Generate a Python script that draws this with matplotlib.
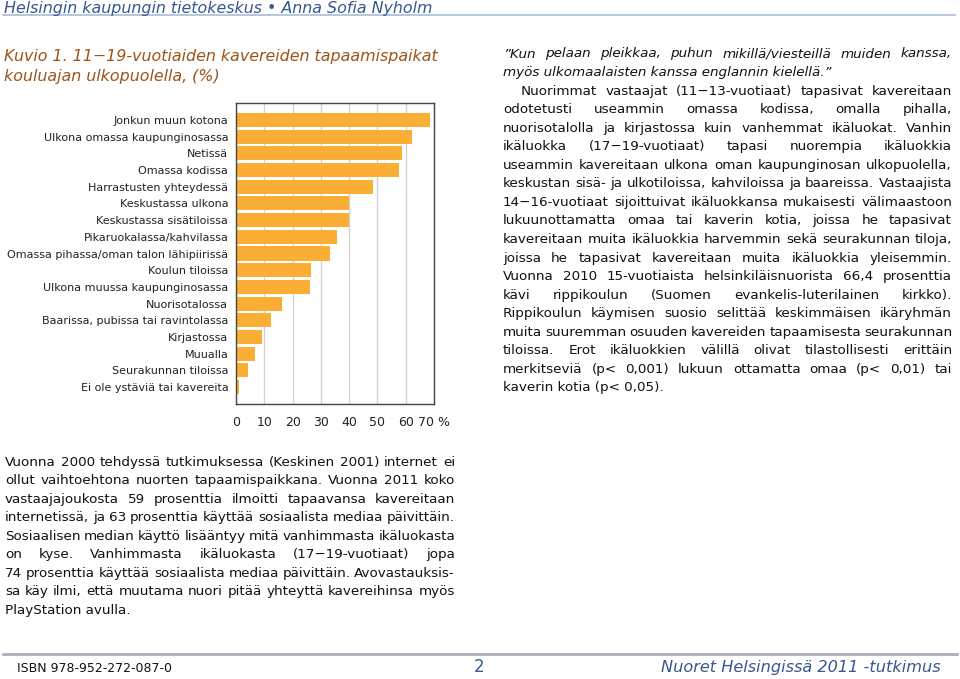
import matplotlib
matplotlib.use('Agg')
import matplotlib.pyplot as plt
from matplotlib.lines import Line2D

# chart data (Kuvio 1)
places = ['Jonkun muun kotona', 'Ulkona omassa kaupunginosassa', 'Netissä',
          'Omassa kodissa', 'Harrastusten yhteydessä', 'Keskustassa ulkona',
          'Keskustassa sisätiloissa', 'Pikaruokalassa/kahvilassa',
          'Omassa pihassa/oman talon lähipiirissä', 'Koulun tiloissa',
          'Ulkona muussa kaupunginosassa', 'Nuorisotalossa',
          'Baarissa, pubissa tai ravintolassa', 'Kirjastossa', 'Muualla',
          'Seurakunnan tiloissa', 'Ei ole ystäviä tai kavereita']
shares = [68.5, 62.2, 58.6, 57.8, 48.6, 40.1, 40.1, 35.8, 33.4, 26.6,
          26.0, 16.2, 12.3, 9.1, 6.7, 4.2, 1.0]
xticks = [0, 10, 20, 30, 40, 50, 60, 70]
xtick_labels = ['0', '10', '20', '30', '40', '50', '60', '70 %']

header = 'Helsingin kaupungin tietokeskus • Anna Sofia Nyholm'
title_lines = ['Kuvio 1. 11\u221219-vuotiaiden kavereiden tapaamispaikat',
               'kouluajan ulkopuolella, (%)']

quote_lines = ['\u201dKun pelaan pleikkaa, puhun mikillä/viesteillä muiden kanssa,',
               'myös ulkomaalaisten kanssa englannin kielellä.\u201d']
right_lines = ['Nuorimmat vastaajat (11\u221213-vuotiaat) tapasivat kavereitaan',
               'odotetusti useammin omassa kodissa, omalla pihalla,',
               'nuorisotalolla ja kirjastossa kuin vanhemmat ikäluokat. Vanhin',
               'ikäluokka (17\u221219-vuotiaat) tapasi nuorempia ikäluokkia',
               'useammin kavereitaan ulkona oman kaupunginosan ulkopuolella,',
               'keskustan sisä- ja ulkotiloissa, kahviloissa ja baareissa. Vastaajista',
               '14\u221216-vuotiaat sijoittuivat ikäluokkansa mukaisesti välimaastoon',
               'lukuunottamatta omaa tai kaverin kotia, joissa he tapasivat',
               'kavereitaan muita ikäluokkia harvemmin sekä seurakunnan tiloja,',
               'joissa he tapasivat kavereitaan muita ikäluokkia yleisemmin.',
               'Vuonna 2010 15-vuotiaista helsinkiläisnuorista 66,4 prosenttia',
               'kävi rippikoulun (Suomen evankelis-luterilainen kirkko).',
               'Rippikoulun käymisen suosio selittää keskimmäisen ikäryhmän',
               'muita suuremman osuuden kavereiden tapaamisesta seurakunnan',
               'tiloissa. Erot ikäluokkien välillä olivat tilastollisesti erittäin',
               'merkitseviä (p< 0,001) lukuun ottamatta omaa (p< 0,01) tai',
               'kaverin kotia (p< 0,05).']
left_lines = ['Vuonna 2000 tehdyssä tutkimuksessa (Keskinen 2001) internet ei',
              'ollut vaihtoehtona nuorten tapaamispaikkana. Vuonna 2011 koko',
              'vastaajajoukosta 59 prosenttia ilmoitti tapaavansa kavereitaan',
              'internetissä, ja 63 prosenttia käyttää sosiaalista mediaa päivittäin.',
              'Sosiaalisen median käyttö lisääntyy mitä vanhimmasta ikäluokasta',
              'on kyse. Vanhimmasta ikäluokasta (17\u221219-vuotiaat) jopa',
              '74 prosenttia käyttää sosiaalista mediaa päivittäin. Avovastauksis-',
              'sa käy ilmi, että muutama nuori pitää yhteyttä kavereihinsa myös',
              'PlayStation avulla.']
footer_left = 'ISBN 978-952-272-087-0'
footer_mid = '2'
footer_right = 'Nuoret Helsingissä 2011 -tutkimus'

W, H = 960, 679
plt.rcParams['font.family'] = ['DejaVu Sans']
fig = plt.figure(figsize=(9.6, 6.79), dpi=100)
renderer = fig.canvas.get_renderer()

def fx(x):
    return x / W

def fy(y):
    return 1 - y / H

def justify(line, x0, x1, y, last=False, **kw):
# spread words of one line between x0 and x1 (pixels)
    words = line.split()
    if last or len(words) == 1:
        fig.text(fx(x0), fy(y), line, va='baseline', **kw)
        return
    texts = [fig.text(0, fy(y), w, va='baseline', **kw) for w in words]
    widths = [t.get_window_extent(renderer).width for t in texts]
    gap = (x1 - x0 - sum(widths)) / (len(words) - 1)
    x = x0
    for t, w in zip(texts, widths):
        t.set_x(fx(x))
        x += w + gap

# header
fig.text(fx(4), fy(12.5), header, fontsize=11.4, style='italic', color='#35588f', va='baseline')
fig.add_artist(Line2D([fx(3), fx(955)], [fy(15), fy(15)], color='#a9bdd8', lw=1.2))

# title
for i, s in enumerate(title_lines):
    fig.text(fx(4), fy(61 + i*19.5), s, fontsize=11.4, style='italic', color='#9c5418', va='baseline')

# bar chart
ax = fig.add_axes([236/W, 1 - 404/H, 198/W, 301/H])
ypos = list(range(len(places)))
ax.barh(ypos, shares, height=0.84, color='#fbae34', zorder=2)
ax.set_xlim(0, 70)
ax.set_ylim(len(places) - 1 + 1.02, -1.02)
ax.set_yticks(ypos)
ax.set_yticklabels(places, fontsize=8, color='#222222')
ax.set_xticks(xticks)
ax.set_xticklabels(xtick_labels, fontsize=9, color='#222222')
ax.tick_params(length=0)
ax.tick_params(axis='y', pad=5.5)
ax.tick_params(axis='x', pad=8.5)
ax.xaxis.grid(True, color='#d2d2d2', lw=1)
ax.set_axisbelow(True)
for sp in ax.spines.values():
    sp.set_color('#444444')
    sp.set_linewidth(1)

# right column
txt = dict(fontsize=9.7, color='#111111')
ry = 57.5
step = 18.55
for i, s in enumerate(quote_lines):
    justify(s, 503, 952, ry + i*step, last=(i == len(quote_lines) - 1), style='italic', **txt)
for i, s in enumerate(right_lines):
    x0 = 521 if i == 0 else 503
    justify(s, x0, 952, ry + (i + 2)*step, last=(i == len(right_lines) - 1), **txt)

# bottom-left paragraph
ly = 465.7
for i, s in enumerate(left_lines):
    justify(s, 5, 455, ly + i*18.5, last=(i == len(left_lines) - 1), **txt)

# footer
fig.add_artist(Line2D([fx(3), fx(957)], [fy(654), fy(654)], color='#a9b0b8', lw=2))
narrow = ['Liberation Sans Narrow', 'DejaVu Sans']
fig.text(fx(17), fy(672), footer_left, fontsize=9, family=narrow, color='#111111', va='baseline')
fig.text(fx(479), fy(672), footer_mid, fontsize=12, family=narrow, color='#35588f', va='baseline', ha='center')
fig.text(fx(941), fy(672), footer_right, fontsize=11.6, family=narrow, style='italic',
         color='#35588f', va='baseline', ha='right')

fig.savefig('out.png', dpi=100)
